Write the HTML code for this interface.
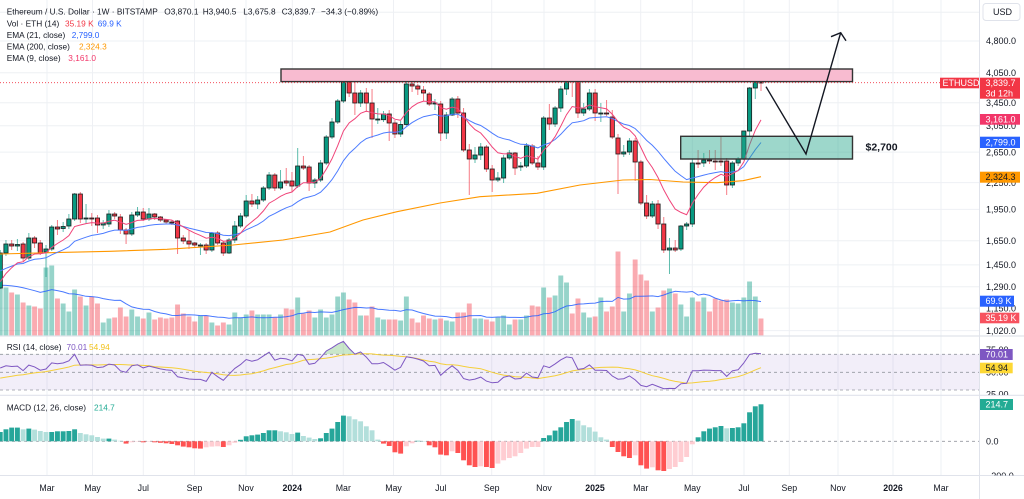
<!DOCTYPE html>
<html><head><meta charset="utf-8">
<style>
html,body{margin:0;padding:0;background:#fff;}
svg{display:block;font-family:"Liberation Sans",Arial,sans-serif;}
.ax{font-size:9px;fill:#131722;}
.lg{font-size:8.3px;fill:#131722;}
.tm{font-size:8.8px;fill:#131722;text-anchor:middle;}
.bx{font-size:9px;fill:#fff;}
</style></head>
<body>
<svg id="s" width="1024" height="499" viewBox="0 0 1024 499" xmlns="http://www.w3.org/2000/svg">
<defs>
<clipPath id="cpMain"><rect x="0" y="0" width="979" height="336"/></clipPath>
<clipPath id="cpOB"><rect x="0" y="337" width="979" height="17.3"/></clipPath>
<clipPath id="cpOS"><rect x="0" y="390" width="979" height="5"/></clipPath>
<clipPath id="cpRsiAx"><rect x="979" y="337" width="45" height="58"/></clipPath>
<clipPath id="cpMacdAx"><rect x="979" y="396" width="45" height="79.5"/></clipPath>
</defs>
<rect x="0" y="0" width="1024" height="499" fill="#fff"/>
<g id="grid"></g>
<rect x="0" y="354.3" width="979" height="35.7" fill="rgba(126,87,194,0.1)"/>
<g stroke="#9598a1" stroke-width="0.8" stroke-dasharray="3,3">
<line x1="0" x2="979" y1="354.3" y2="354.3"/>
<line x1="0" x2="979" y1="372.3" y2="372.3"/>
<line x1="0" x2="979" y1="390" y2="390"/>
<line x1="0" x2="979" y1="441.3" y2="441.3"/>
</g>
<g id="vol" clip-path="url(#cpMain)"></g>
<g id="candles"></g>
<g id="ema"></g>
<g id="rsi"></g>
<g id="macd"></g>

<!-- drawings -->
<rect x="281" y="69" width="571.5" height="12.6" fill="#f8bbd0" stroke="#333" stroke-width="1.4"/>
<rect x="680.7" y="136.3" width="171.8" height="22.7" fill="rgba(38,166,140,0.45)" stroke="#333" stroke-width="1.4"/>
<line x1="0" x2="940" y1="82.7" y2="82.7" stroke="#f23645" stroke-width="0.8" stroke-dasharray="1,2"/>
<polyline points="766,86.7 806,154 840.7,32.7" fill="none" stroke="#131722" stroke-width="1.4"/>
<polyline points="831,36.7 840.7,32.7 846,40.7" fill="none" stroke="#131722" stroke-width="1.4"/>
<text x="865.5" y="150.5" style="font-size:10.5px;font-weight:bold;fill:#131722;">$2,700</text>

<!-- separators -->
<line x1="0" x2="1024" y1="336" y2="336" stroke="#e0e3eb" stroke-width="1.2"/>
<line x1="0" x2="1024" y1="395.3" y2="395.3" stroke="#e0e3eb" stroke-width="1.2"/>
<line x1="0" x2="1024" y1="475.5" y2="475.5" stroke="#e0e3eb" stroke-width="1"/>
<line x1="979.5" x2="979.5" y1="0" y2="499" stroke="#e0e3eb" stroke-width="1"/>

<!-- legend -->
<text class="lg" x="6.7" y="14.5">Ethereum / U.S. Dollar · 1W · BITSTAMP</text>
<text class="lg" x="164.3" y="14.5">O3,870.1</text>
<text class="lg" x="202.7" y="14.5">H3,940.5</text>
<text class="lg" x="243.3" y="14.5">L3,675.8</text>
<text class="lg" x="281.7" y="14.5">C3,839.7</text>
<text class="lg" x="321" y="14.5">−34.3 (−0.89%)</text>
<text class="lg" x="6.7" y="26.5">Vol · ETH (14)</text>
<text class="lg" x="65" y="26.5" style="fill:#f23645">35.19 K</text>
<text class="lg" x="97.7" y="26.5" style="fill:#2962ff">69.9 K</text>
<text class="lg" x="6.7" y="38">EMA (21, close)</text>
<text class="lg" x="71.7" y="38" style="fill:#2962ff">2,799.0</text>
<text class="lg" x="6.7" y="49.5">EMA (200, close)</text>
<text class="lg" x="79" y="49.5" style="fill:#ff9800">2,324.3</text>
<text class="lg" x="6.7" y="61">EMA (9, close)</text>
<text class="lg" x="68.3" y="61" style="fill:#f23669">3,161.0</text>
<text class="lg" x="6.7" y="349.8">RSI (14, close)</text>
<text class="lg" x="66.5" y="349.8" style="fill:#7e57c2">70.01</text>
<text class="lg" x="89" y="349.8" style="fill:#f2c21b">54.94</text>
<text class="lg" x="6.7" y="410.3">MACD (12, 26, close)</text>
<text class="lg" x="94" y="410.3" style="fill:#22ab94">214.7</text>

<!-- right axis -->
<rect x="983" y="3.5" width="37" height="17" rx="3" fill="#fff" stroke="#e0e3eb"/>
<text class="ax" x="993" y="15">USD</text>
<text class="ax" x="986" y="44.2">4,800.0</text>
<text class="ax" x="986" y="76">4,050.0</text>
<text class="ax" x="986" y="105.9">3,450.0</text>
<text class="ax" x="986" y="128.9">3,050.0</text>
<text class="ax" x="986" y="155.3">2,650.0</text>
<text class="ax" x="986" y="185.8">2,250.0</text>
<text class="ax" x="986" y="212.6">1,950.0</text>
<text class="ax" x="986" y="243.9">1,650.0</text>
<text class="ax" x="986" y="268.1">1,450.0</text>
<text class="ax" x="986" y="289.9">1,290.0</text>
<text class="ax" x="986" y="311.3">1,150.0</text>
<text class="ax" x="986" y="333.8">1,020.0</text>
<g clip-path="url(#cpRsiAx)">
<text class="ax" x="986" y="353">75.00</text>
<text class="ax" x="986" y="375.5">50.00</text>
<text class="ax" x="986" y="397.7">25.00</text>
</g>
<g clip-path="url(#cpMacdAx)">
<text class="ax" x="986" y="444.5">0.0</text>
<text class="ax" x="986" y="479.2">−200.0</text>
</g>

<rect x="940" y="77.7" width="39" height="10.6" fill="#f23645"/>
<text class="bx" x="942.5" y="86">ETHUSD</text>
<rect x="980" y="77.7" width="40" height="21" fill="#f23645"/>
<text class="bx" x="985.5" y="86">3,839.7</text>
<text class="bx" x="985.5" y="96.3">3d 12h</text>
<rect x="980" y="114" width="40" height="10.7" fill="#f23669"/>
<text class="bx" x="985.5" y="122.4">3,161.0</text>
<rect x="980" y="136.7" width="40" height="11.3" fill="#2962ff"/>
<text class="bx" x="985.5" y="145.3">2,799.0</text>
<rect x="980" y="171.7" width="40" height="11" fill="#ff9800"/>
<text class="bx" x="985.5" y="180.2" style="fill:#131722">2,324.3</text>
<rect x="980" y="295.7" width="34" height="11" fill="#2962ff"/>
<text class="bx" x="985.5" y="304.2">69.9 K</text>
<rect x="980" y="312.7" width="39.3" height="10.6" fill="#f7525f"/>
<text class="bx" x="985.5" y="321">35.19 K</text>
<rect x="980" y="349" width="32.7" height="11" fill="#7e57c2"/>
<text class="bx" x="985.5" y="357.5">70.01</text>
<rect x="980" y="362.7" width="32.7" height="10.6" fill="#fdd835"/>
<text class="bx" x="985.5" y="371" style="fill:#131722">54.94</text>
<rect x="980" y="399" width="33" height="11" fill="#22ab94"/>
<text class="bx" x="985.5" y="407.5">214.7</text>

<!-- time axis -->
<text class="tm" x="47" y="491">Mar</text>
<text class="tm" x="92.5" y="491">May</text>
<text class="tm" x="143.3" y="491">Jul</text>
<text class="tm" x="194.5" y="491">Sep</text>
<text class="tm" x="246" y="491">Nov</text>
<text class="tm" x="292.3" y="491" style="font-weight:bold">2024</text>
<text class="tm" x="343.3" y="491">Mar</text>
<text class="tm" x="393.5" y="491">May</text>
<text class="tm" x="440.7" y="491">Jul</text>
<text class="tm" x="491.7" y="491">Sep</text>
<text class="tm" x="544" y="491">Nov</text>
<text class="tm" x="595" y="491" style="font-weight:bold">2025</text>
<text class="tm" x="640.7" y="491">Mar</text>
<text class="tm" x="692.3" y="491">May</text>
<text class="tm" x="744" y="491">Jul</text>
<text class="tm" x="789.3" y="491">Sep</text>
<text class="tm" x="838" y="491">Nov</text>
<text class="tm" x="893" y="491" style="font-weight:bold">2026</text>
<text class="tm" x="941" y="491">Mar</text>
</svg>
<script>
(function(){
const NS='http://www.w3.org/2000/svg';
function el(t,a,p){const e=document.createElementNS(NS,t);for(const k in a)e.setAttribute(k,a[k]);p.appendChild(e);return e;}
const C=[[288,253,250,289],[253,244,240,256],[244,246,240,250],[246,244.5,239,251],[244,258,242,261],[258,238,233,260],[238,243,236,248],[243,253,240,255],[252,249,245,277],[249,227,225,251],
[227,229,220,235],[228.5,226.5,222,232],[226,219,214,229],[219,194,193,221],[194,219,192,223],[219,218,204,224],[218,219,213,226],[218,225,215,233],[225,223,220,229],[224,214,210,227],
[214,216,212,219],[217,230,214,234],[230,234,228,244],[234,215,212,236],[215,212,207,217],[212,219,208,221],[219,214,208,221],[214,217,213,220],[217,220,216,222],[220,222,219,224],
[222,223,220,225],[221,238,220,254],[238,241,235,244],[241,244,230,249],[243,245,242,248],[245.5,245,243,255],[245,250,243,254],[250,233,232,252],[233,243,231,245],[243,253,241,256],
[253,240,238,254],[240,226,221,243],[226,216,213,228],[216,201,195,218],[201,204,194,207],[204,200,196,209],[200,188,186,202],[188,175,172,190],[175,188,173,191],[188,182,170,190],
[181,183,168,186],[181,186,172,192],[186,166,148,188],[166,168,156,170],[167,183,165,191],[183,180,178,188],[180,163,160,182],[163,137,135,165],[137,122,118,139],[122,101,99,124],
[101,82,79,103],[82,93,75,97],[93,103,81,115],[103,93,90,107],[93,103,88,112],[103,119,89,138],[119.7,119,108,124],[119.7,114,111,122],[114,123,110,141],[123,134,120,138],
[134,124.5,121,137],[124.5,84,80,126],[84,86,78,92],[86,89,84,95],[90,93,86,101],[94,104,92,106],[104,103,99,110],[104,133,101,141],[133,115,112,139],[115,99,97,116],
[99,113,96,118],[113,150,108,152],[150,159,144,195],[159,155,147,163],[155,147,143,160],[147,169,145,172],[169,180,165,192],[180,178,172,182],[178,158,155,183],[158,153,150,160],
[153,168,152,175],[167,166,162,171],[166,146,143,168],[146,163,144,165],[163,167,156,170],[167,118,116,170],[118,124,104,130],[124,108,106,127],[108,89,86,112],[89,75,73,95],
[75,77,71,97],[77,113,72,118],[113,109,103,116],[109,93,89,111],[93,113,89,121],[114,113,103,122],[113,113.5,100,116],[117,137,110,139],[138,154,134,194],[154,152,145,157],
[152,141,138,155],[141,162,138,181],[162,203,160,205],[203,216,195,219],[216,204,201,218],[204,224,200,229],[224,250,217,253],[250,248,238,274],[248,250,240,252],[249,226,225,251],
[226,224,222,230],[224,163,159,227],[163,163.5,150,168],[163,160,153,167],[160,161,150,164],[161,162,150,170],[161,162,137,166],[161,185,158,195],[185,163,161,188],[163,159,157,166],
[159,131,131,160],[131,88,87,137],[88,82,80,99],[82,83,79,91]];
const V=[53,48,43,41,33,30,29,27,68,70,37,32,24,46,39,30,39,32,13,17,18,28,19,26,19,17,23,16,18,17,18,31,22,19,14,20,20,13,10,13,11,23,18,21,25,21,21,21,18,21,27,26,38,22,25,18,26,18,21,39,
43,36,33,20,20,29,18,16,16,16,15,39,17,13,20,17,16,17,15,14,23,23,32,17,17,16,14,18,20,11,16,16,20,30,29,48,38,40,60,53,22,37,23,18,19,38,24,29,84,24,42,76,61,55,24,28,45,47,
42,31,19,38,34,38,24,37,35,36,33,32,38,54,39,17];
const H=[9.3,12,13.7,13.7,12,12.7,11.7,10.3,9.3,9.3,10,10,10.3,12,8.3,7,6,4.3,2.7,2.7,1.7,0.5,-2.3,-1,-0.3,-1,-0.5,-1,-1.5,-2,-2.7,-4,-5.3,-6,-7,-7.3,-6,-5.3,-5,-5.7,
-4,-1.5,1.5,5,6,6.7,8.3,11,11,10,9,7.3,8.7,5.3,3.7,2.3,3,8.3,12.7,19.3,25.7,25,22,20,15,11,1.7,-2.3,-4.7,-11,-12.3,-5,-2,0.5,0.3,-4,-6,-13.3,-14,-10,
-11.7,-19,-24,-25.7,-25,-25.7,-26.7,-22.3,-19,-16.7,-15,-11.7,-7.3,-5.7,-5.7,3.3,6,10.7,14,19.3,22.3,20.7,16,14,9.7,4,1.7,-5.7,-10.7,-15,
-16.7,-14,-24,-27.3,-26,-29,-29.7,-27.7,-25.7,-20.7,-15.7,-3,4,10,12.7,14,15.3,13,13.3,14,18,29,35,37];
const X=i=>0.24+5.72*i;
const P=y=>Math.exp(8.47637-(y-41)/187);
const Y=p=>41+(8.47637-Math.log(p))*187;
const GR='#089981',RD='#f23645';
const up=i=>C[i][1]<=C[i][0];
const g=document.getElementById('grid');
[47,92.5,143.3,194.5,246,292.3,343.3,393.5,440.7,491.7,544,595,640.7,692.3,744,789.3,838,893,941].forEach(x=>el('line',{x1:x,x2:x,y1:0,y2:475.5,stroke:'#eef0f4','stroke-width':1},g));
[12.2,41,72.8,102.7,125.7,152.1,182.6,209.4,240.7,264.9,286.7,308.1,330.6].forEach(y=>el('line',{x1:0,x2:979,y1:y,y2:y,stroke:'#eef0f4','stroke-width':1},g));
const gv=document.getElementById('vol');
V.forEach((h,i)=>el('rect',{x:X(i)-2.45,y:335.5-h,width:4.9,height:h,fill:up(i)?'rgba(8,153,129,0.42)':'rgba(242,54,69,0.42)'},gv));
let vp=[];
for(let i=0;i<V.length;i++){let s=0;for(let j=i-13;j<=i;j++)s+=(j<0?50:V[j]);vp.push(X(i).toFixed(1)+','+(335.5-s/14).toFixed(1));}
el('polyline',{points:vp.join(' '),fill:'none',stroke:'#2962ff','stroke-width':1,opacity:0.85},gv);
const ge=document.getElementById('ema');
el('polyline',{points:'0,254 50,252.7 110,251.3 167,249.3 233,245 283,240 330,232 363,220 397,211.7 440,203 480,196.7 537,193.3 580,185 623,180 650,179.5 683,182 717,182.7 743,180.7 761,176.7',fill:'none',stroke:'#ff9800','stroke-width':1.1},ge);
const gc=document.getElementById('candles');
C.forEach((d,i)=>{const [o,c,h,l]=d;const col=up(i)?GR:RD;const x=X(i);
el('line',{x1:x,x2:x,y1:h,y2:l,stroke:col,'stroke-width':1,opacity:0.65},gc);
const t=Math.min(o,c),bh=Math.max(Math.abs(o-c),1);
el('rect',{x:x-2.1,y:t,width:4.2,height:bh,fill:col,stroke:'#1c1c1c','stroke-width':0.8},gc);});
let e9=1270,e21=1390,p9=[],p21=[];
C.forEach((d,i)=>{const p=P(d[1]);e9+=0.2*(p-e9);e21+=(2/22)*(p-e21);p9.push(X(i).toFixed(1)+','+Y(e9).toFixed(1));p21.push(X(i).toFixed(1)+','+Y(e21).toFixed(1));});
el('polyline',{points:p21.join(' '),fill:'none',stroke:'#4d7cff','stroke-width':1},ge);
el('polyline',{points:p9.join(' '),fill:'none',stroke:'#f0457a','stroke-width':1},ge);
const gr=document.getElementById('rsi');
const YR=v=>354.3+(70-v)*0.8925;
let ag=40,al=50,hist=Array(13).fill(42.5),rp=[],mp=[];
C.forEach((d,i)=>{const prev=i?P(C[i-1][1]):P(C[0][0]);const ch=P(d[1])-prev;
ag=(ag*13+Math.max(ch,0))/14;al=(al*13+Math.max(-ch,0))/14;const r=100-100/(1+ag/al);
hist.push(r);let s=0;for(let j=hist.length-14;j<hist.length;j++)s+=hist[j];
rp.push([X(i),YR(r)]);mp.push(X(i).toFixed(1)+','+YR(s/14).toFixed(1));});
const poly=rp.map(p=>p[0].toFixed(1)+','+p[1].toFixed(1)).join(' ');
el('polygon',{points:poly+' '+X(C.length-1)+',354.3 0,354.3','clip-path':'url(#cpOB)',fill:'rgba(76,175,80,0.3)'},gr);
el('polygon',{points:poly+' '+X(C.length-1)+',390 0,390','clip-path':'url(#cpOS)',fill:'rgba(242,54,69,0.25)'},gr);
el('polyline',{points:mp.join(' '),fill:'none',stroke:'#f5cf3a','stroke-width':1},gr);
el('polyline',{points:poly,fill:'none',stroke:'#7e57c2','stroke-width':1},gr);
const gm=document.getElementById('macd');
H.forEach((h,i)=>{const pv=i?H[i-1]:h;let col;
if(h>=0)col=(h>=pv)?'#26a69a':'#b2dfdb';else col=(h<pv)?'#ff5252':'#ffcdd2';
const y0=441.3;const t=h>=0?y0-h:y0;el('rect',{x:X(i)-2.45,y:t,width:4.9,height:Math.max(Math.abs(h),0.4),fill:col},gm);});
})();
</script>
</body></html>
